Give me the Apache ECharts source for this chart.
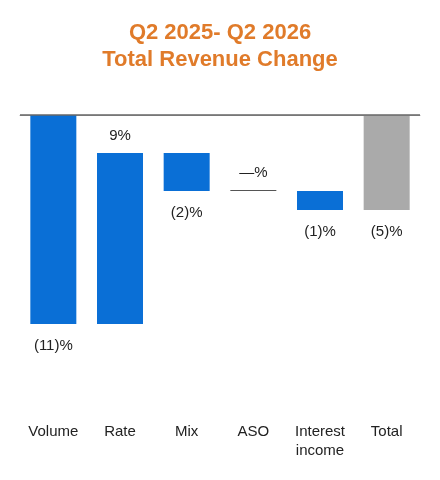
<!DOCTYPE html>
<html><head><meta charset="utf-8">
<script src="https://cdn.jsdelivr.net/npm/echarts@6/dist/echarts.min.js"></script>
<style>html,body{margin:0;padding:0;background:#fff}#c{width:440px;height:480px}</style>
</head><body><div id="c"></div>
<script>
const categories = ["Volume","Rate","Mix","ASO","Interest\nincome","Total"];
const changes = [-11, 9, -2, 0, -1, -5];
const labels = ["(11)%","9%","(2)%","—%","(1)%","(5)%"];
const isTotal = [false,false,false,false,false,true];

const base = [], delta = [];
let cum = 0;
changes.forEach((c,i)=>{
  if (isTotal[i]) { base.push(0); delta.push(c); return; }
  const next = cum + c;
  const hi = Math.max(cum,next), lo = Math.min(cum,next);
  base.push(hi); delta.push(lo-hi);
  cum = next;
});

const chart = echarts.init(document.getElementById('c'));
chart.setOption({
  animation:false,
  title:{text:"Q2 2025- Q2 2026\nTotal Revenue Change",left:'center',top:14,
    textStyle:{color:'#E07B2A',fontSize:22,fontWeight:'bold',fontFamily:'Liberation Sans',lineHeight:27}},
  grid:{left:20,right:20,top:115,bottom:80},
  xAxis:{type:'category',data:categories,axisTick:{show:false},
    axisLine:{lineStyle:{color:'#aaa',width:1}},
    axisLabel:{color:'#222',fontSize:15,fontFamily:'Liberation Sans',margin:22,lineHeight:19,verticalAlign:'top',interval:0}},
  yAxis:{type:'value',min:-15,max:0,show:false,splitLine:{show:false}},
  series:[
    {type:'bar',stack:'w',data:base,itemStyle:{color:'transparent'},barWidth:46,silent:true,
     markLine:{symbol:'none',silent:true,label:{show:false},lineStyle:{color:'#666',width:1.5,type:'solid'},data:[{yAxis:0}]}},
    {type:'bar',stack:'w',barWidth:46,barMinHeight:1,
     data:delta.map((v,i)=>({value:v,
       itemStyle:{color: isTotal[i] ? '#AAAAAA' : (changes[i]===0 ? '#555' : '#0A6FD6')},
       label:{show:true,formatter:labels[i],position:(changes[i]>=0)?'top':'bottom',
         distance:(changes[i]>=0)?10:14,color:'#222',fontSize:15,fontFamily:'Liberation Sans'}}))}
  ]
});
</script></body></html>
